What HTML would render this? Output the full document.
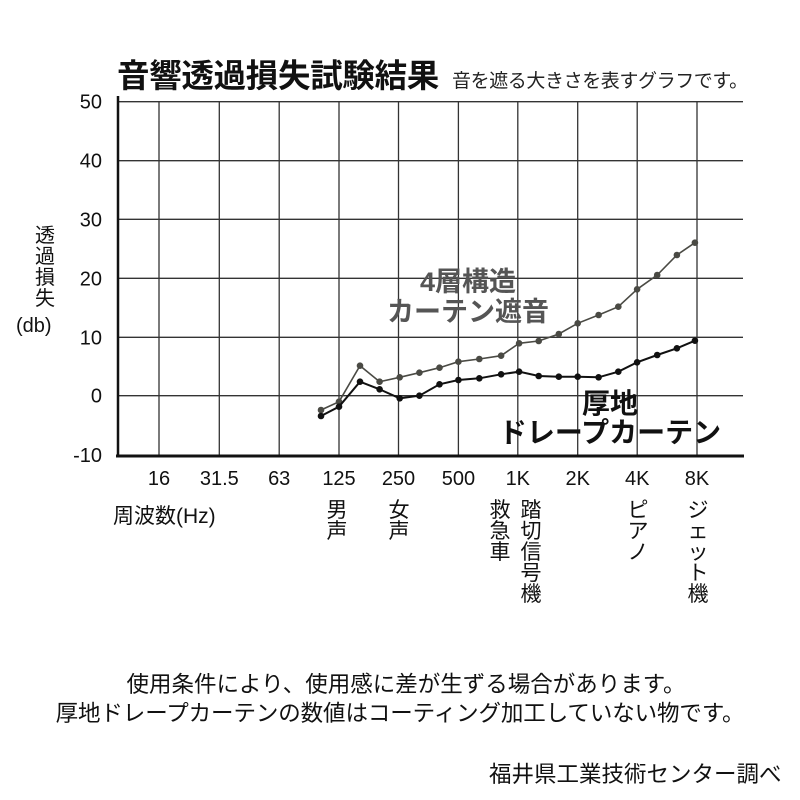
<!DOCTYPE html>
<html><head><meta charset="utf-8">
<style>
body{margin:0;width:800px;height:800px;background:#fff;overflow:hidden;position:relative;font-family:"Liberation Sans","Noto Sans CJK JP",sans-serif;color:#111}
.t{position:absolute;white-space:nowrap;line-height:1}
.v{position:absolute;width:24px;font-size:21px;line-height:21px;text-align:center;word-break:break-all;white-space:normal}
svg{position:absolute;left:0;top:0}
</style></head><body>
<svg id="s" width="800" height="800"></svg>
<div class="t" style="left:117px;top:60px;font-size:32.5px;font-weight:bold;letter-spacing:-0.3px">音響透過損失試験結果</div>
<div class="t" style="left:452px;top:72px;font-size:19px;color:#222;letter-spacing:-0.4px">音を遮る大きさを表すグラフです。</div>
<div class="t" style="left:29px;top:226px;font-size:20px;width:32px;text-align:center;white-space:normal;line-height:21px">透<br>過<br>損<br>失</div>
<div class="t" style="left:16px;top:316px;font-size:20px">(db)</div>
<div class="t" style="left:113px;top:506px;font-size:21px">周波数(Hz)</div>
<div class="v" style="left:325px;top:500px">男声</div>
<div class="v" style="left:387px;top:500px">女声</div>
<div class="v" style="left:488px;top:500px">救急車</div>
<div class="v" style="left:519px;top:500px">踏切信号機</div>
<div class="v" style="left:626px;top:500px">ピアノ</div>
<div class="v" style="left:686px;top:500px">ジェット機</div>
<div class="t" style="left:0;width:812px;text-align:center;top:674px;font-size:22.5px">使用条件により、使用感に差が生ずる場合があります。</div>
<div class="t" style="left:0;width:800px;text-align:center;top:703px;font-size:22.5px;letter-spacing:-0.1px">厚地ドレープカーテンの数値はコーティング加工していない物です。</div>
<div class="t" style="left:489px;top:764px;font-size:22.5px">福井県工業技術センター調べ</div>
<div class="t" style="left:368px;top:267px;font-size:27px;font-weight:bold;color:#555;text-align:center;width:200px;line-height:30px;white-space:normal">4層構造<br>カーテン遮音</div>
<div class="t" style="left:490px;top:389px;font-size:28px;font-weight:bold;text-align:center;width:240px;line-height:29px;white-space:normal">厚地<br>ドレープカーテン</div>
<script>
var s=document.getElementById('s'),h='';
var vx=[159,219.3,279.2,339,398.5,458.4,517.8,577.7,637.2,697];
var hy=[101.7,160.7,219.3,278.3,337.3,395.7];
vx.forEach(function(x){h+='<line x1="'+x+'" y1="101" x2="'+x+'" y2="455" stroke="#333" stroke-width="1.3"/>';});
hy.forEach(function(y){h+='<line x1="118" y1="'+y+'" x2="743" y2="'+y+'" stroke="#333" stroke-width="1.3"/>';});
h+='<line x1="118" y1="96" x2="118" y2="457" stroke="#111" stroke-width="2.5"/>';
h+='<line x1="116" y1="456" x2="744" y2="456" stroke="#111" stroke-width="3"/>';
var yl=['50','40','30','20','10','0','-10'],yy=[101.7,160.7,219.3,278.3,337.3,395.7,455];
yl.forEach(function(l,i){h+='<text x="102" y="'+(yy[i]+7)+'" font-size="20" text-anchor="end" fill="#111">'+l+'</text>';});
var xl=['16','31.5','63','125','250','500','1K','2K','4K','8K'];
xl.forEach(function(l,i){h+='<text x="'+vx[i]+'" y="485" font-size="20" text-anchor="middle" fill="#111">'+l+'</text>';});
var zx=[520,563,613,660,708,755,803,848,898,950,993,1040,1088,1133,1183,1230,1275,1323,1370,1413];
var up=[1080,1055,947,995,982,968,953,935,927,917,880,873,852,820,795,770,718,675,615,578];
var lo=[1098,1070,995,1018,1045,1037,1003,990,985,973,965,978,980,980,982,965,937,915,895,872];
function ser(a,c,w){var p=zx.map(function(z,i){return (103.3+0.4187*z).toFixed(1)+','+(50+a[i]/3).toFixed(1);});
h+='<polyline points="'+p.join(' ')+'" fill="none" stroke="'+c+'" stroke-width="'+w+'"/>';
p.forEach(function(q){var k=q.split(',');h+='<circle cx="'+k[0]+'" cy="'+k[1]+'" r="3.3" fill="'+c+'"/>';});}
ser(up,'#4a4a44',1.6);ser(lo,'#111',2);
s.innerHTML=h;
</script>
</body></html>
